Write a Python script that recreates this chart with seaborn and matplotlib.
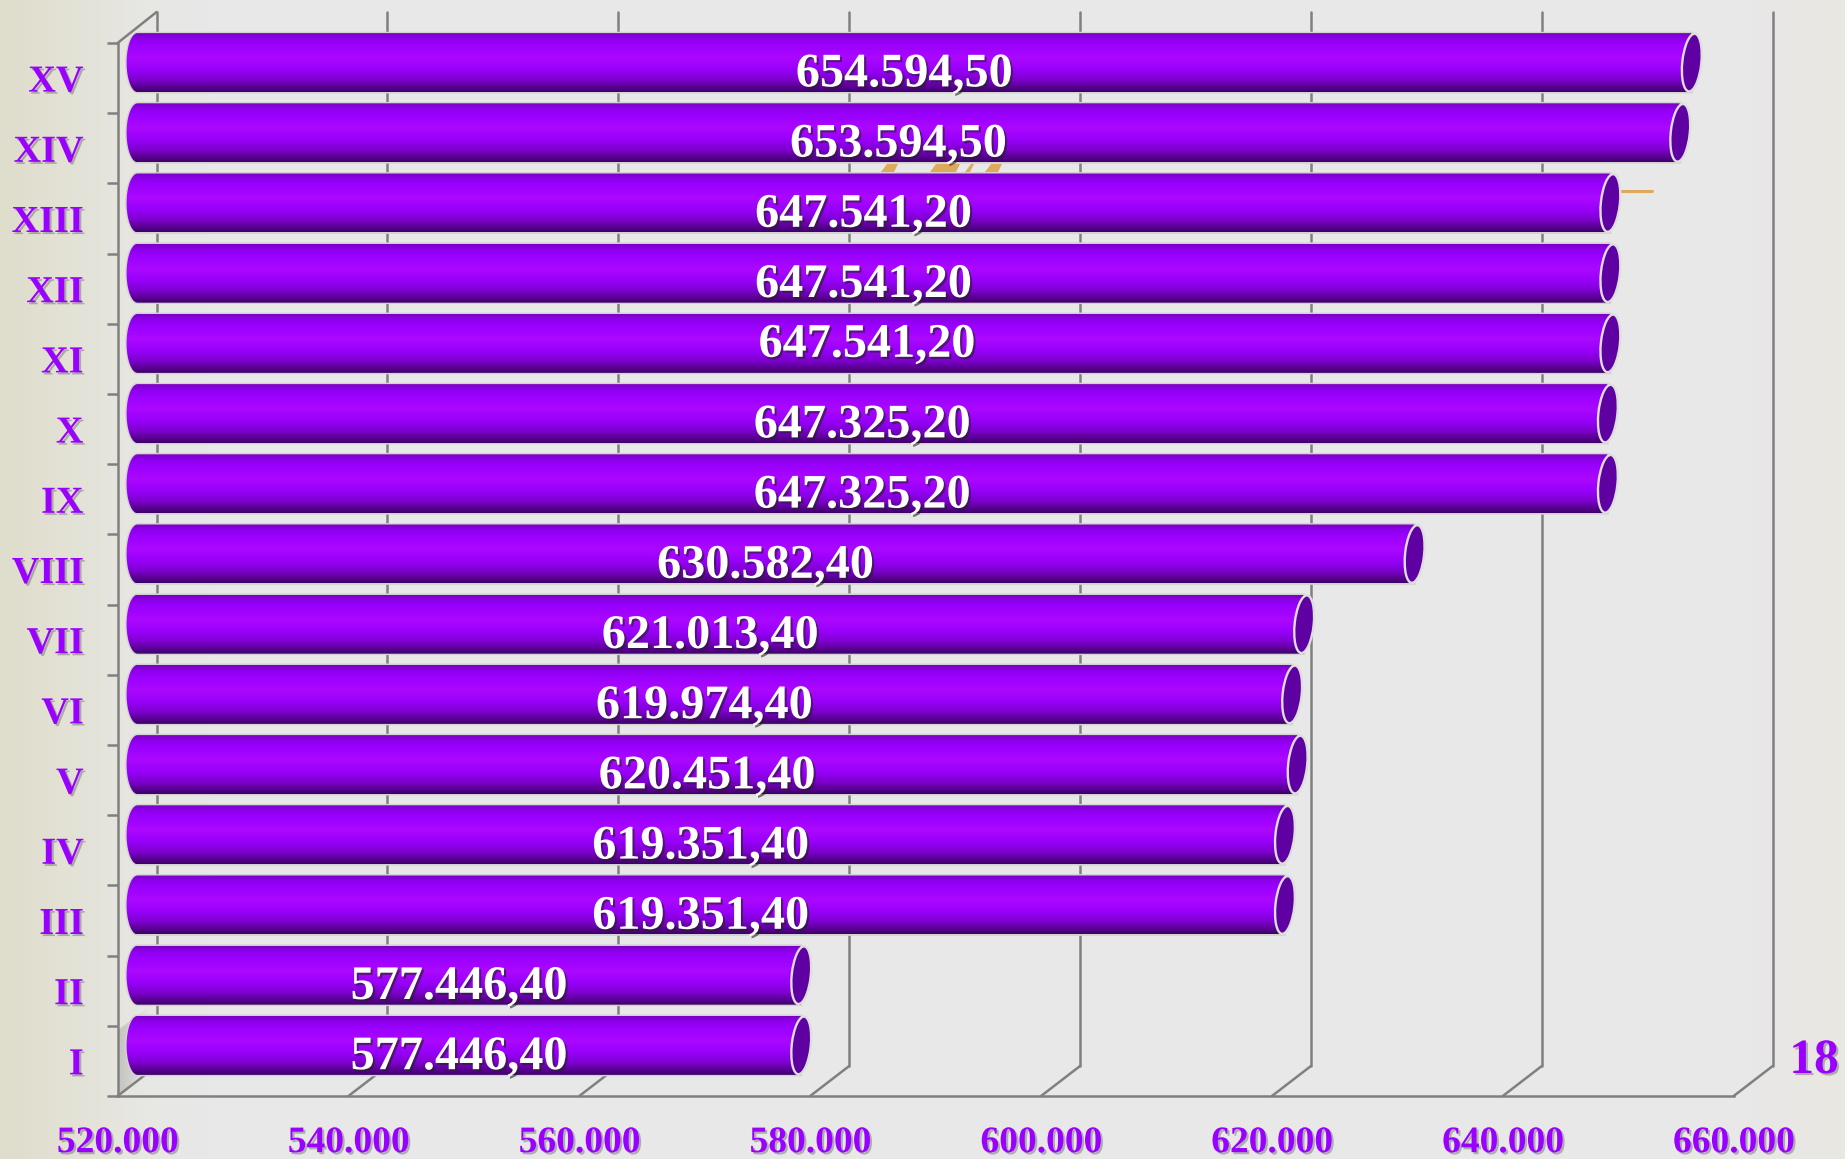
import numpy as np
import pandas as pd
import seaborn as sns
import matplotlib
matplotlib.use('Agg')
import matplotlib.pyplot as plt
import matplotlib.patheffects as pe
from matplotlib.colors import LinearSegmentedColormap
from matplotlib.patches import ConnectionPatch, Ellipse, PathPatch, Polygon
from matplotlib.path import Path
from matplotlib.transforms import Affine2D, IdentityTransform

labels = ['I', 'II', 'III', 'IV', 'V', 'VI', 'VII', 'VIII', 'IX', 'X', 'XI', 'XII', 'XIII', 'XIV', 'XV']
values = [577446.40, 577446.40, 619351.40, 619351.40, 620451.40, 619974.40, 621013.40, 630582.40,
          647325.20, 647325.20, 647541.20, 647541.20, 647541.20, 653594.50, 654594.50]
x_ticks = [520000, 540000, 560000, 580000, 600000, 620000, 640000, 660000]
corner_label = '18'

W, H = 1845, 1159
PURPLE = '#9900ff'
GRID = '#808080'
FONT = 'Liberation Serif'

sns.set_theme(style='white')
plt.rcParams['font.family'] = [FONT, 'DejaVu Sans']
plt.rcParams['font.weight'] = 'bold'

fig = plt.figure(figsize=(W / 100, H / 100), dpi=100)


def px_axes(left, top, right, bottom, z):
    ax = fig.add_axes([left / W, 1 - bottom / H, (right - left) / W, (bottom - top) / H], zorder=z)
    ax.patch.set_alpha(0)
    return ax


shadow = [pe.withSimplePatchShadow(offset=(1.5, -1.5), shadow_rgbFace='#555555', alpha=0.4)]

# paper background, beige towards the edges
bg = px_axes(0, 0, W, H, 0)
paper = LinearSegmentedColormap.from_list('paper', [(0, '#dfddcc'), (0.03, '#e2e1d4'), (0.075, '#e7e7e3'),
                                                    (0.11, '#e8e8e8'), (0.95, '#e8e8e8'), (1, '#e8e7e1')])
bg.imshow(np.linspace(0, 1, 600)[None, :], cmap=paper, extent=(0, W, H, 0), aspect='auto')
# bits of the title hidden behind the bars
for x0, x1 in [(881, 896), (930, 958), (965, 972), (985, 1000)]:
    bg.add_patch(Polygon([(x0 + 6, 164), (x1 + 2, 164), (x1 - 2, 172), (x0, 172)], color='#dfa95c', lw=0))
bg.plot([1621, 1652], [191, 191], color='#dfa95c', lw=2.2)
# shade on the side wall next to the first bar
shade = bg.imshow(np.dstack([np.full((1, 100, 3), 0.6), np.linspace(0.45, 0, 100)[None, :]]),
                  extent=(118, 150, 1097, 1006), aspect='auto', zorder=1)
shade.set_clip_path(Polygon([(118, 1096), (118, 1030), (150, 1006), (150, 1066)], transform=bg.transData))
bg.set_xlim(0, W)
bg.set_ylim(H, 0)
bg.axis('off')
bg.text(1814, 1061, corner_label, color=PURPLE, fontsize=35.5, ha='center', va='center', path_effects=shadow)

# back wall with the grid lines
back = px_axes(156.6, 12, 1772.7, 1066, 1)
back.set_xlim(x_ticks[0], x_ticks[-1])
back.set_ylim(-0.5, 14.5)
back.set_xticks(x_ticks)
back.set_yticks([])
back.tick_params(axis='x', length=0, labelbottom=False)
back.grid(axis='x', color=GRID, lw=1.8, clip_on=False)
back.grid(axis='y', visible=False)
sns.despine(ax=back, left=True, bottom=True)

# front axes with ticks and labels
front = px_axes(117.6, 43, 1733.7, 1096, 2)
front.set_xlim(x_ticks[0], x_ticks[-1])
front.set_ylim(-0.5, 14.5)
front.set_xticks(x_ticks)
front.set_xticklabels([f'{t:,}'.replace(',', '.') for t in x_ticks])
front.set_yticks(range(len(labels)))
front.set_yticklabels(labels)
front.set_yticks(np.arange(-0.5, 15), minor=True)
front.tick_params(axis='x', length=8, width=1.8, color=GRID, pad=13, labelsize=27, labelcolor=PURPLE)
front.tick_params(axis='y', which='major', length=0, pad=24.5, labelsize=27.5, labelcolor=PURPLE)
front.tick_params(axis='y', which='minor', left=True, length=8, width=1.8, color=GRID)
for t in front.get_xticklabels() + front.get_yticklabels():
    t.set_path_effects(shadow)
    t.set_fontweight('bold')
sns.despine(ax=front)
for side in ['left', 'bottom']:
    front.spines[side].set_color(GRID)
    front.spines[side].set_linewidth(1.8)

# diagonals joining floor and back wall
corners = [(t, -0.5) for t in x_ticks] + [(x_ticks[0], 14.5)]
for xy in corners:
    fig.add_artist(ConnectionPatch(xyA=xy, coordsA=front.transData, xyB=xy, coordsB=back.transData,
                                   color=GRID, lw=1.8, zorder=1.5))

# bars, the seaborn bars get the cylinder look on top
bars = px_axes(137.6, 27.5, 1753.7, 1080.5, 3)
df = pd.DataFrame({'label': labels[::-1], 'value': values[::-1]})
sns.barplot(data=df, x='value', y='label', orient='h', color=PURPLE, saturation=1, width=0.84, ax=bars)
bars.set_xlim(x_ticks[0], x_ticks[-1])
bars.set_ylim(14.5, -0.5)
bars.set_autoscale_on(False)
bars.axis('off')

tube = LinearSegmentedColormap.from_list('tube', [(0, '#7a00c4'), (0.08, '#8c00e8'), (0.2, '#9a00ff'),
                                                  (0.42, '#ab08ff'), (0.62, '#9800fa'), (0.8, '#7c00cc'),
                                                  (0.93, '#55008c'), (1, '#3f0069')])
fig.canvas.draw()
CAP = 11
units = (x_ticks[-1] - x_ticks[0]) / (1753.7 - 137.6)
theta = np.linspace(np.pi / 2, 3 * np.pi / 2, 40)

for bar in bars.patches:
    v, y, h = bar.get_width(), bar.get_y(), bar.get_height()
    if not v:
        continue
    (xa, ytop), (xb, ybot) = bars.transData.transform([(x_ticks[0], y), (v, y + h)])
    ym, half = (ytop + ybot) / 2, (ytop - ybot) / 2
    outline = [(xa + CAP * np.cos(t), ym + half * np.sin(t)) for t in theta] + [(xb, ybot), (xb, ytop)]
    body = Path(outline + outline[:1], closed=True)
    bars.add_patch(PathPatch(body, transform=IdentityTransform(), fc='none', ec='#d2d2d2', lw=2,
                             clip_on=False, zorder=3))
    im = bars.imshow(np.linspace(0, 1, 120)[:, None], cmap=tube, origin='upper', aspect='auto',
                     extent=(x_ticks[0] - 14 * units, v, y + h, y), zorder=4)
    im.set_clip_box(fig.bbox)
    im.set_clip_path(body, IdentityTransform())
    bars.add_patch(Ellipse((0, 0), 19, 2 * half - 1, angle=-6, fc='#5f00a3', ec='#dedede', lw=1.7, clip_on=False,
                           transform=Affine2D().translate(xb + 0.5, ym), zorder=5))
    bar.set_visible(False)

    text = f'{v:,.2f}'.replace(',', '#').replace('.', ',').replace('#', '.')
    dx, dy = (-7.5, -8.5) if y + h / 2 != 4 else (-5, -1)
    bars.annotate(text, xy=((x_ticks[0] + v) / 2, y + h / 2), xytext=(dx, dy), textcoords='offset points',
                  ha='center', va='center', color='white', fontsize=34.7, fontweight='bold', zorder=6,
                  path_effects=[pe.withSimplePatchShadow(offset=(1.5, -1.5), shadow_rgbFace='#222222', alpha=0.6)])

plt.savefig('out.png', dpi=100)
plt.close()
